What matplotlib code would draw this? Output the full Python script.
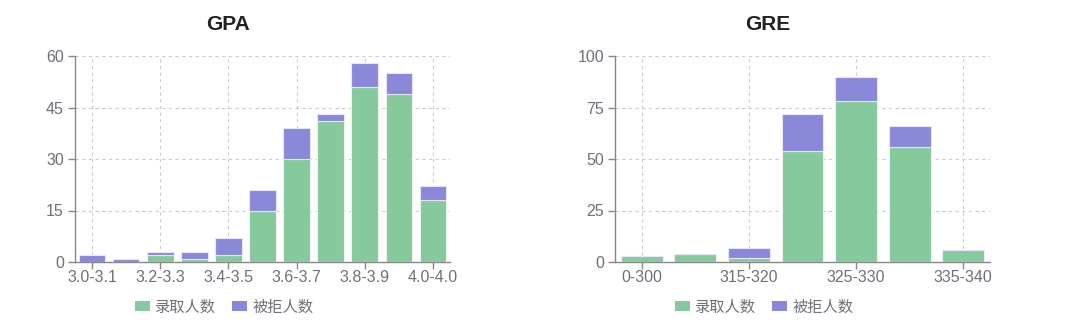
import matplotlib
matplotlib.use("Agg")
import matplotlib.pyplot as plt
from matplotlib.patches import Patch

plt.rcParams['font.family'] = ['Liberation Sans', 'Noto Sans CJK SC', 'DejaVu Sans']

gpa_cats = ["3.0-3.1", "3.1-3.2", "3.2-3.3", "3.3-3.4", "3.4-3.5", "3.5-3.6",
            "3.6-3.7", "3.7-3.8", "3.8-3.9", "3.9-4.0", "4.0-4.0"]
gpa_admit = [0, 0, 2, 1, 2, 15, 30, 41, 51, 49, 18]
gpa_reject = [2, 1, 1, 2, 5, 6, 9, 2, 7, 6, 4]

gre_cats = ["0-300", "300-315", "315-320", "320-325", "325-330", "330-335", "335-340"]
gre_admit = [3, 4, 2, 54, 78, 56, 6]
gre_reject = [0, 0, 5, 18, 12, 10, 0]

GREEN = "#85c99d"
PURPLE = "#8a88d9"
TXT = "#6e7079"

W, H = 1080, 325
fig = plt.figure(figsize=(W / 100, H / 100), dpi=100)

def draw(ax, cats, admit, reject, ymax, yticks, title, cx):
    x = list(range(len(cats)))
    ax.bar(x, admit, width=0.78, color=GREEN, edgecolor="#e8f5ec", linewidth=0.8, zorder=3)
    ax.bar(x, reject, bottom=admit, width=0.78, color=PURPLE, edgecolor="#e6e6f8", linewidth=0.8, zorder=3)
    ax.set_xlim(-0.5, len(cats) - 0.5)
    ax.set_ylim(0, ymax)
    ax.set_yticks(yticks)
    xt = x[::2]
    ax.set_xticks(xt)
    ax.set_xticklabels([cats[i] for i in xt])
    ax.grid(True, linestyle=(0, (3, 3)), color="#cccccc", linewidth=0.8, zorder=0)
    for s in ["top", "right"]:
        ax.spines[s].set_visible(False)
    for s in ["left", "bottom"]:
        ax.spines[s].set_color("#888888")
        ax.spines[s].set_linewidth(1.0)
    ax.tick_params(axis="both", colors="#888888", labelcolor=TXT, labelsize=11.5, length=5, width=1)
    ax.tick_params(axis="x", pad=1)
    ax.tick_params(axis="y", pad=3)
    fig.text(cx / W, 1 - 24 / H, title, fontsize=15, fontweight="bold", color="#222222",
             ha="center", va="center")
    handles = [Patch(facecolor=GREEN, label="录取人数"), Patch(facecolor=PURPLE, label="被拒人数")]
    fig.legend(handles=handles, loc="center", bbox_to_anchor=((cx - 4) / W, 1 - 307 / H), ncol=2,
               frameon=False, prop={'family': ['Noto Sans CJK SC'], 'size': 11},
               handlelength=1.0, handleheight=0.65,
               handletextpad=0.35, columnspacing=1.0, labelcolor=TXT, borderpad=0, borderaxespad=0)

ax1 = fig.add_axes([75 / W, 1 - 262 / H, 375 / W, 206 / H])
ax2 = fig.add_axes([615 / W, 1 - 262 / H, 375 / W, 206 / H])
draw(ax1, gpa_cats, gpa_admit, gpa_reject, 60, [0, 15, 30, 45, 60], "GPA", 228)
draw(ax2, gre_cats, gre_admit, gre_reject, 100, [0, 25, 50, 75, 100], "GRE", 768)

fig.savefig("out.png", dpi=100)
